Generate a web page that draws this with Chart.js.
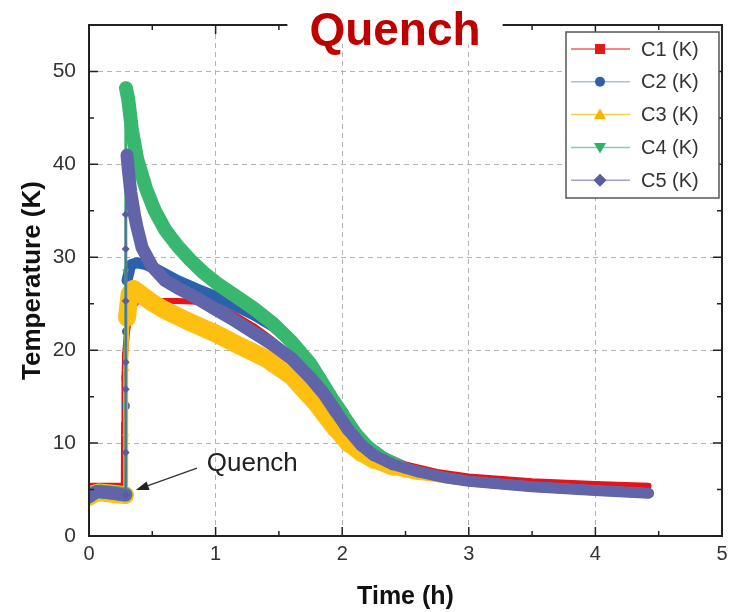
<!DOCTYPE html>
<html>
<head>
<meta charset="utf-8">
<script src="https://cdn.jsdelivr.net/npm/chart.js@4.4.0/dist/chart.umd.min.js"></script>
<style>
  html, body { margin: 0; padding: 0; background: #fff; }
  canvas { display: block; }
</style>
</head>
<body>
<canvas id="quenchChart" width="730" height="612"></canvas>
<script>
// tick labels
const xTicks = [0, 1, 2, 3, 4, 5];
const yTicks = [0, 10, 20, 30, 40, 50];

// series (time in h, temperature in K)
const seriesNames = ['C1 (K)', 'C2 (K)', 'C3 (K)', 'C4 (K)', 'C5 (K)'];

const c1Time = [0, 0.1, 0.2, 0.275, 0.277, 0.28, 0.285, 0.30, 0.33, 0.4, 0.47, 0.55, 0.7, 0.85, 1.0, 1.15, 1.3, 1.45, 1.6, 1.75, 1.9, 2.0, 2.1, 2.2, 2.3, 2.5, 2.75, 3.0, 3.5, 4.0, 4.42];
const c1Temp = [5.4, 5.4, 5.4, 5.4, 12, 17, 19.5, 22, 24.5, 25.5, 25.5, 25.3, 25.3, 25.2, 24.8, 23.8, 22.6, 21.1, 19.4, 17.3, 14.6, 12.8, 11.0, 9.8, 8.9, 7.7, 6.9, 6.4, 5.9, 5.6, 5.4];

const c2Time = [0, 0.03, 0.08, 0.15, 0.22, 0.29, 0.291, 0.293, 0.30, 0.33, 0.38, 0.45, 0.55, 0.7, 0.85, 1.0, 1.15, 1.3, 1.45, 1.6, 1.75, 1.9, 2.0, 2.1, 2.2, 2.3, 2.5, 2.75, 3.0, 3.5, 4.0, 4.42];
const c2Temp = [4.3, 4.6, 4.8, 4.7, 4.6, 4.5, 14, 22, 27.5, 29.2, 29.4, 29.2, 28.6, 27.5, 26.6, 25.8, 24.8, 23.8, 22.6, 20.9, 18.0, 14.6, 12.6, 10.9, 9.5, 8.5, 7.2, 6.4, 5.9, 5.3, 4.9, 4.6];

const c3Time = [0, 0.03, 0.08, 0.15, 0.22, 0.285, 0.288, 0.292, 0.30, 0.32, 0.35, 0.42, 0.5, 0.6, 0.8, 1.0, 1.2, 1.4, 1.6, 1.8, 1.95, 2.05, 2.15, 2.25, 2.4, 2.6, 3.0, 3.5, 4.0, 4.42];
const c3Temp = [4.2, 4.5, 4.7, 4.6, 4.5, 4.4, 11, 18, 23.5, 26.0, 26.6, 25.9, 25.1, 24.3, 23.0, 21.8, 20.4, 19.1, 17.2, 14.2, 11.5, 9.9, 8.8, 8.0, 7.2, 6.6, 5.9, 5.3, 4.9, 4.6];

const c4Time = [0, 0.03, 0.08, 0.15, 0.22, 0.288, 0.29, 0.292, 0.31, 0.34, 0.38, 0.45, 0.52, 0.6, 0.7, 0.8, 0.9, 1.03, 1.15, 1.3, 1.45, 1.6, 1.75, 1.9, 2.0, 2.1, 2.2, 2.3, 2.5, 2.75, 3.0, 3.5, 4.0, 4.42];
const c4Temp = [4.3, 4.6, 4.8, 4.7, 4.6, 4.5, 28.5, 48.2, 47.0, 43.6, 40.6, 37.4, 35.0, 33.0, 31.2, 29.7, 28.4, 27.0, 25.9, 24.5, 22.9, 20.9, 18.5, 15.2, 13.2, 11.2, 9.7, 8.7, 7.3, 6.5, 5.9, 5.3, 4.9, 4.6];

const c5Time = [0, 0.03, 0.06, 0.12, 0.2, 0.28, 0.29, 0.29, 0.29, 0.29, 0.29, 0.29, 0.29, 0.30, 0.31, 0.33, 0.36, 0.38, 0.42, 0.5, 0.6, 0.7, 0.8, 0.9, 1.0, 1.15, 1.3, 1.45, 1.6, 1.75, 1.85, 1.95, 2.05, 2.15, 2.25, 2.4, 2.6, 2.8, 3.0, 3.5, 4.0, 4.42];
const c5Temp = [4.2, 4.5, 4.8, 4.7, 4.6, 4.4, 4.4, 9, 15.8, 18.7, 25.3, 30.9, 34.6, 41.0, 39.5, 37.0, 34.5, 33.2, 31.0, 29.0, 27.5, 26.7, 26.0, 25.2, 24.4, 23.2, 21.9, 20.6, 19.1, 17.0, 15.4, 13.4, 11.4, 9.8, 8.7, 7.7, 6.9, 6.3, 5.9, 5.3, 4.9, 4.6];

const FONT = "'Liberation Sans', Arial, sans-serif";
Chart.defaults.font.family = FONT;

// look of each series: band colour, legend line colour, marker, band widths
const looks = [
    { color: '#e5141c', legendLine: '#f06060', marker: '#e31a1c', style: 'square',   width: 6,  rise: 6, tail: 6 },
    { color: '#2c62ad', legendLine: '#a9bfdd', marker: '#2f5fa8', style: 'circle',   width: 11, rise: 2, tail: 9 },
    { color: '#fdc010', legendLine: '#f8cf4a', marker: '#f7b500', style: 'triangle', width: 18, rise: 5, tail: 10 },
    { color: '#38b86e', legendLine: '#80d4a2', marker: '#2eb267', style: 'triDown',  width: 14, rise: 3, tail: 10 },
    { color: '#6264aa', legendLine: '#a2a2cc', marker: '#585ca3', style: 'diamond',  width: 13, rise: 2, tail: 11 }
];
const times = [c1Time, c2Time, c3Time, c4Time, c5Time];
const temps = [c1Temp, c2Temp, c3Temp, c4Temp, c5Temp];

function isRise(p0, p1) {
    return p1.y - p0.y > 2 && p1.x - p0.x < 0.02;
}

// bands get thinner as the curves flatten out after ~2 h
function bandWidth(lk, t) {
    if (t <= 1.9) return lk.width;
    if (t >= 2.6) return lk.tail;
    return lk.width + (lk.tail - lk.width) * (t - 1.9) / 0.7;
}

const datasets = seriesNames.map((name, i) => {
    const lk = looks[i];
    const pts = times[i].map((t, k) => ({ x: t, y: temps[i][k] }));
    return {
        label: name,
        data: pts,
        order: 5 - i,
        borderColor: lk.color,
        backgroundColor: lk.marker,
        borderWidth: lk.width,
        borderJoinStyle: 'round',
        borderCapStyle: 'round',
        tension: 0,
        pointStyle: lk.style === 'square' ? 'rect' : lk.style === 'diamond' ? 'rectRot' : lk.style === 'triDown' ? 'triangle' : lk.style,
        rotation: lk.style === 'triDown' ? 180 : 0,
        pointBorderWidth: 0,
        pointRadius: ctx => {
            const d = ctx.dataset.data, k = ctx.dataIndex;
            return d[k + 1] && isRise(d[k], d[k + 1]) ? 4 : 0;
        },
        segment: {
            borderWidth: ctx => isRise(ctx.p0.parsed, ctx.p1.parsed)
                ? lk.rise
                : bandWidth(lk, (ctx.p0.parsed.x + ctx.p1.parsed.x) / 2)
        }
    };
});

function drawMarker(ctx, style, x, y, r) {
    ctx.beginPath();
    if (style === 'square') {
        ctx.rect(x - r, y - r, 2 * r, 2 * r);
    } else if (style === 'circle') {
        ctx.arc(x, y, r, 0, Math.PI * 2);
    } else if (style === 'triangle') {
        ctx.moveTo(x, y - r * 1.2); ctx.lineTo(x + r * 1.2, y + r * 0.9); ctx.lineTo(x - r * 1.2, y + r * 0.9);
    } else if (style === 'triDown') {
        ctx.moveTo(x, y + r * 1.2); ctx.lineTo(x + r * 1.2, y - r * 0.9); ctx.lineTo(x - r * 1.2, y - r * 0.9);
    } else {
        ctx.moveTo(x, y - r * 1.3); ctx.lineTo(x + r * 1.3, y); ctx.lineTo(x, y + r * 1.3); ctx.lineTo(x - r * 1.3, y);
    }
    ctx.closePath();
    ctx.fill();
}

const decorations = {
    id: 'decorations',
    afterDatasetsDraw(chart) {
        const { ctx, chartArea: a, scales: { x, y } } = chart;
        ctx.save();

        // frame with inward ticks on all four sides
        ctx.strokeStyle = '#222';
        ctx.lineWidth = 2;
        ctx.strokeRect(a.left, a.top, a.right - a.left, a.bottom - a.top);
        ctx.lineWidth = 1.5;
        ctx.beginPath();
        xTicks.forEach(v => {
            [[v, 9], [v + 0.5, 5]].forEach(([tv, len]) => {
                if (tv > x.max) return;
                const px = x.getPixelForValue(tv);
                ctx.moveTo(px, a.bottom); ctx.lineTo(px, a.bottom - len);
                ctx.moveTo(px, a.top); ctx.lineTo(px, a.top + len);
            });
        });
        yTicks.forEach(v => {
            [[v, 9], [v + 5, 5]].forEach(([tv, len]) => {
                if (tv >= y.max) return;
                const py = y.getPixelForValue(tv);
                ctx.moveTo(a.left, py); ctx.lineTo(a.left + len, py);
                ctx.moveTo(a.right, py); ctx.lineTo(a.right - len, py);
            });
        });
        ctx.stroke();

        // legend
        const bw = 153, bh = 166;
        const bx = a.right - 156, by = a.top + 7;
        ctx.fillStyle = '#fff';
        ctx.fillRect(bx, by, bw, bh);
        ctx.strokeStyle = '#555';
        ctx.lineWidth = 1.5;
        ctx.strokeRect(bx, by, bw, bh);
        ctx.font = '20px ' + FONT;
        ctx.textBaseline = 'middle';
        seriesNames.forEach((name, i) => {
            const lk = looks[i];
            const cy = by + 17 + i * 32.8;
            ctx.strokeStyle = lk.legendLine;
            ctx.lineWidth = 1.5;
            ctx.beginPath();
            ctx.moveTo(bx + 5, cy); ctx.lineTo(bx + 64, cy);
            ctx.stroke();
            ctx.fillStyle = lk.marker;
            drawMarker(ctx, lk.style, bx + 34, cy, 5);
            ctx.fillStyle = '#333';
            ctx.textAlign = 'left';
            ctx.fillText(name, bx + 75, cy + 1);
        });

        // "Quench" annotation with arrow
        const tx = x.getPixelForValue(0.853), ty = y.getPixelForValue(7.3);
        const hx = x.getPixelForValue(0.37), hy = y.getPixelForValue(4.95);
        const ang = Math.atan2(hy - ty, hx - tx);
        ctx.strokeStyle = '#333';
        ctx.fillStyle = '#222';
        ctx.lineWidth = 1.3;
        ctx.beginPath();
        ctx.moveTo(tx, ty);
        ctx.lineTo(hx - 10 * Math.cos(ang), hy - 10 * Math.sin(ang));
        ctx.stroke();
        ctx.beginPath();
        ctx.moveTo(hx, hy);
        ctx.lineTo(hx - 13 * Math.cos(ang) + 4.5 * Math.sin(ang), hy - 13 * Math.sin(ang) - 4.5 * Math.cos(ang));
        ctx.lineTo(hx - 13 * Math.cos(ang) - 4.5 * Math.sin(ang), hy - 13 * Math.sin(ang) + 4.5 * Math.cos(ang));
        ctx.closePath();
        ctx.fill();
        ctx.font = '26px ' + FONT;
        ctx.textAlign = 'left';
        ctx.textBaseline = 'alphabetic';
        ctx.fillText('Quench', x.getPixelForValue(0.93), y.getPixelForValue(7.0));

        // title on a white box over the top frame line
        ctx.font = 'bold 46px ' + FONT;
        const tw = ctx.measureText('Quench').width;
        ctx.fillStyle = '#fff';
        ctx.fillRect(395 - tw / 2 - 22, 8, tw + 44, 36);
        ctx.fillStyle = '#c00000';
        ctx.textAlign = 'center';
        ctx.fillText('Quench', 395, 45);

        ctx.restore();
    }
};

new Chart(document.getElementById('quenchChart'), {
    type: 'line',
    data: { datasets: datasets },
    options: {
        responsive: false,
        animation: false,
        devicePixelRatio: 1,
        layout: { padding: { top: 25, right: 8, left: 0, bottom: 0 } },
        plugins: { legend: { display: false }, tooltip: { enabled: false } },
        scales: {
            x: {
                type: 'linear',
                min: 0,
                max: 5,
                afterBuildTicks: s => { s.ticks = xTicks.map(v => ({ value: v })); },
                afterFit: s => { s.height = 76; s.paddingLeft = 0; s.paddingRight = 0; },
                ticks: { font: { size: 20 }, color: '#333', padding: 6, maxRotation: 0 },
                grid: { color: '#b4b4b4', lineWidth: 1, drawTicks: false },
                border: { display: false, dash: [5, 4] },
                title: { display: true, text: 'Time (h)', font: { size: 25, weight: 'bold' }, color: '#111', padding: { top: 0, bottom: 0 } }
            },
            y: {
                min: 0,
                max: 55,
                afterBuildTicks: s => { s.ticks = yTicks.map(v => ({ value: v })); },
                afterFit: s => { s.width = 89; s.paddingTop = 0; s.paddingBottom = 0; },
                ticks: { font: { size: 21 }, color: '#333', padding: 13 },
                grid: { color: '#b4b4b4', lineWidth: 1, drawTicks: false },
                border: { display: false, dash: [5, 4] },
                title: { display: true, text: 'Temperature (K)', font: { size: 26, weight: 'bold' }, color: '#111', padding: { top: 17, bottom: 0 } }
            }
        }
    },
    plugins: [decorations]
});
</script>
</body>
</html>
